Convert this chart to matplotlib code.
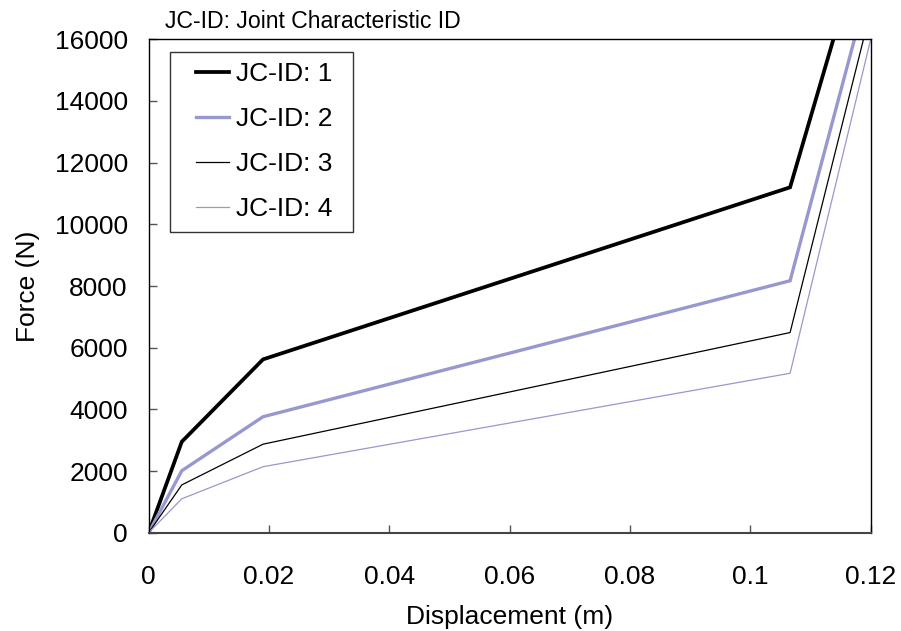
import matplotlib
matplotlib.use("Agg")
import matplotlib.pyplot as plt
from matplotlib.legend_handler import HandlerLine2D

plt.rcParams['font.family'] = ['Liberation Sans', 'DejaVu Sans']

# Data (displacement in m, force in N)
disp_1 = [0.0, 0.0055, 0.019, 0.1066, 0.1138]
force_1 = [0, 2950, 5620, 11200, 16000]
disp_2 = [0.0, 0.0055, 0.019, 0.1066, 0.1173]
force_2 = [0, 2010, 3760, 8170, 16000]
disp_3 = [0.0, 0.0055, 0.019, 0.1066, 0.1188]
force_3 = [0, 1550, 2870, 6490, 16000]
disp_4 = [0.0, 0.0055, 0.019, 0.1066, 0.1200]
force_4 = [0, 1100, 2140, 5170, 16000]
labels = ["JC-ID: 1", "JC-ID: 2", "JC-ID: 3", "JC-ID: 4"]
x_ticks = [0, 0.02, 0.04, 0.06, 0.08, 0.1, 0.12]
x_ticklabels = ["0", "0.02", "0.04", "0.06", "0.08", "0.1", "0.12"]
y_ticks = [0, 2000, 4000, 6000, 8000, 10000, 12000, 14000, 16000]


class LeadHandler(HandlerLine2D):
    """Legend line drawn over the right part of the handle box only."""
    def __init__(self, lead_frac=0.33, **kw):
        super().__init__(**kw)
        self.lead_frac = lead_frac

    def get_xdata(self, legend, xdescent, ydescent, width, height, fontsize):
        x0 = -xdescent + self.lead_frac * width
        x1 = -xdescent + width
        return [x0, x1], [x0, x1]


lav = '#9898D0'
FS = 19
fig = plt.figure(figsize=(9.01, 6.31), dpi=100)
ax = fig.add_axes([148.7/901, 1-532.7/631, 722/901, 493.4/631])

ax.plot(disp_1, force_1, color='black', lw=2.7, label=labels[0], solid_joinstyle='miter')
ax.plot(disp_2, force_2, color=lav, lw=2.4, label=labels[1], solid_joinstyle='miter')
ax.plot(disp_3, force_3, color='black', lw=0.9, label=labels[2])
ax.plot(disp_4, force_4, color=lav, lw=0.9, label=labels[3])

ax.set_xlim(0, 0.12)
ax.set_ylim(0, 16000)
ax.set_xticks(x_ticks)
ax.set_xticklabels(x_ticklabels)
ax.set_yticks(y_ticks)
ax.tick_params(direction='in', length=6, width=1, color='#555555', labelsize=FS)
ax.tick_params(axis='x', pad=23)
ax.tick_params(axis='y', pad=15)
for s in ax.spines.values():
    s.set_linewidth(1.0)
    s.set_color('black')
ax.spines['bottom'].set_color('#444444')
ax.spines['bottom'].set_linewidth(1.5)

ax.set_xlabel("Displacement (m)", fontsize=FS)
ax.set_ylabel("Force (N)", fontsize=FS)
ax.xaxis.set_label_coords(0.5, -0.146)
ax.yaxis.set_label_coords(-0.1506, 0.5)

fig.text(165/901, 1-22/631, "JC-ID: Joint Characteristic ID", fontsize=16.6,
         ha='left', va='center')

leg = ax.legend(loc='upper left', bbox_to_anchor=(0.0295, 0.0, 0.2535, 0.974),
                mode='expand', borderaxespad=0,
                fontsize=FS, handlelength=1.86, handletextpad=0.265, labelspacing=0.8,
                borderpad=0.38, fancybox=False, framealpha=1, edgecolor='#333333',
                handler_map={matplotlib.lines.Line2D: LeadHandler(lead_frac=0.33)})
leg.get_frame().set_linewidth(1.0)

fig.savefig("out.png", dpi=100)
